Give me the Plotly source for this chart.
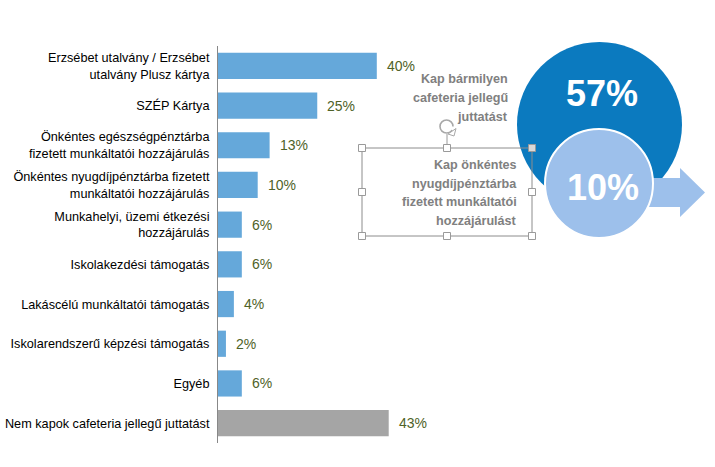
import plotly.graph_objects as go

W, H = 715, 467

categories = [
    "Erzsébet utalvány / Erzsébet<br>utalvány Plusz kártya",
    "SZÉP Kártya",
    "Önkéntes egészségpénztárba<br>fizetett munkáltatói hozzájárulás",
    "Önkéntes nyugdíjpénztárba fizetett<br>munkáltatói hozzájárulás",
    "Munkahelyi, üzemi étkezési<br>hozzájárulás",
    "Iskolakezdési támogatás",
    "Lakáscélú munkáltatói támogatás",
    "Iskolarendszerű képzési támogatás",
    "Egyéb",
    "Nem kapok cafeteria jellegű juttatást",
]
values = [40, 25, 13, 10, 6, 6, 4, 2, 6, 43]
bar_colors = ["#65A8DA"] * 9 + ["#A5A5A5"]

big_value = "57%"
big_label = ["Kap bármilyen", "cafeteria jellegű", "juttatást"]
small_value = "10%"
small_label = ["Kap önkéntes", "nyugdíjpénztárba", "fizetett munkáltatói", "hozzájárulást"]

FONT = "Liberation Sans, Arial, sans-serif"


def px(x):
    return x / W


def py(y):
    return 1 - y / H


fig = go.Figure()
fig.add_trace(go.Bar(
    x=values, y=categories, orientation="h",
    marker=dict(color=bar_colors, line=dict(width=0)),
    width=0.66, hoverinfo="skip",
))

annotations = []
for c, v in zip(categories, values):
    annotations.append(dict(
        x=v, y=c, xref="x", yref="y", text=f"{v}%", showarrow=False,
        xanchor="left", yanchor="middle", xshift=8,
        font=dict(family=FONT, size=14, color="#4F6228"),
    ))

shapes = []
# big circle
shapes.append(dict(type="circle", xref="paper", yref="paper",
                   x0=px(517), x1=px(682), y0=py(207), y1=py(42),
                   fillcolor="#0B7ABF", line=dict(width=0)))
# arrow
arrow_pts = [(640, 178), (680, 178), (680, 168), (705, 192.5), (680, 217), (680, 207), (640, 207)]
path = "M " + " L ".join(f"{px(a)},{py(b)}" for a, b in arrow_pts) + " Z"
shapes.append(dict(type="path", xref="paper", yref="paper", path=path,
                   fillcolor="#9DC0EB", line=dict(width=0)))
# small circle
shapes.append(dict(type="circle", xref="paper", yref="paper",
                   x0=px(545), x1=px(653), y0=py(238), y1=py(129),
                   fillcolor="#9DC0EB", line=dict(width=2, color="white")))
# selection box
shapes.append(dict(type="rect", xref="paper", yref="paper",
                   x0=px(362), x1=px(532), y0=py(236), y1=py(148),
                   line=dict(width=1, color="#8C8C8C"), fillcolor="rgba(0,0,0,0)"))
# rotation handle line
shapes.append(dict(type="line", xref="paper", yref="paper",
                   x0=px(447), x1=px(447), y0=py(148), y1=py(134),
                   line=dict(width=1, color="#9A9A9A")))
# rotation icon (open circular arrow)
cx, cy, r = 446.5, 126.5, 6.5
k = 0.5523 * r
icon = (f"M {px(cx + r)},{py(cy)} "
        f"C {px(cx + r)},{py(cy - k)} {px(cx + k)},{py(cy - r)} {px(cx)},{py(cy - r)} "
        f"C {px(cx - k)},{py(cy - r)} {px(cx - r)},{py(cy - k)} {px(cx - r)},{py(cy)} "
        f"C {px(cx - r)},{py(cy + k)} {px(cx - k)},{py(cy + r)} {px(cx)},{py(cy + r)} "
        f"C {px(cx + k)},{py(cy + r)} {px(cx + r * 0.75)},{py(cy + r * 0.8)} {px(cx + r * 0.85)},{py(cy + r * 0.55)}")
shapes.append(dict(type="path", xref="paper", yref="paper", path=icon,
                   line=dict(width=1.6, color="#A8A8A8")))
shapes.append(dict(type="path", xref="paper", yref="paper",
                   path=f"M {px(cx + r + 3)},{py(cy + 2)} L {px(cx + r + 1)},{py(cy + r + 3)} L {px(cx + r - 5)},{py(cy + r + 1)} Z",
                   line=dict(width=1, color="#A8A8A8"), fillcolor="white"))
# handles
for hx, hy in [(362, 148), (447, 148), (532, 148), (362, 192), (532, 192),
               (362, 236), (447, 236), (532, 236)]:
    fill = "#D9D9D9" if (hx, hy) == (532, 148) else "white"
    shapes.append(dict(type="rect", xref="paper", yref="paper",
                       x0=px(hx - 3.5), x1=px(hx + 3.5), y0=py(hy + 3.5), y1=py(hy - 3.5),
                       line=dict(width=1, color="#9A9A9A"), fillcolor=fill))

# circle texts
annotations.append(dict(x=px(602), y=py(94), xref="paper", yref="paper", text=f"<b>{big_value}</b>",
                        showarrow=False, xanchor="center", yanchor="middle",
                        font=dict(family=FONT, size=36, color="white")))
annotations.append(dict(x=px(603), y=py(188), xref="paper", yref="paper", text=f"<b>{small_value}</b>",
                        showarrow=False, xanchor="center", yanchor="middle",
                        font=dict(family=FONT, size=36, color="white")))
for i, t in enumerate(big_label):
    annotations.append(dict(x=px(510), y=py(79 + 19 * i), xref="paper", yref="paper", text=f"<b>{t}</b>",
                            showarrow=False, xanchor="right", yanchor="middle",
                            font=dict(family=FONT, size=12.6, color="#808080")))
for i, t in enumerate(small_label):
    annotations.append(dict(x=px(519), y=py(165 + 18.7 * i), xref="paper", yref="paper", text=f"<b>{t}</b>",
                            showarrow=False, xanchor="right", yanchor="middle",
                            font=dict(family=FONT, size=12.6, color="#808080")))

fig.update_layout(
    width=W, height=H,
    margin=dict(l=0, r=0, t=0, b=0),
    paper_bgcolor="white", plot_bgcolor="white",
    showlegend=False,
    xaxis=dict(domain=[px(218), 1], range=[0, 497 / 3.97], visible=False, fixedrange=True),
    yaxis=dict(domain=[py(443), py(46)], autorange="reversed", type="category",
               showline=True, linecolor="#888888", linewidth=1, showgrid=False,
               ticks="", ticklabelstandoff=5,
               tickfont=dict(family=FONT, size=12.7, color="black"), fixedrange=True),
    shapes=shapes,
    annotations=annotations,
)

fig.write_html("out.html")
